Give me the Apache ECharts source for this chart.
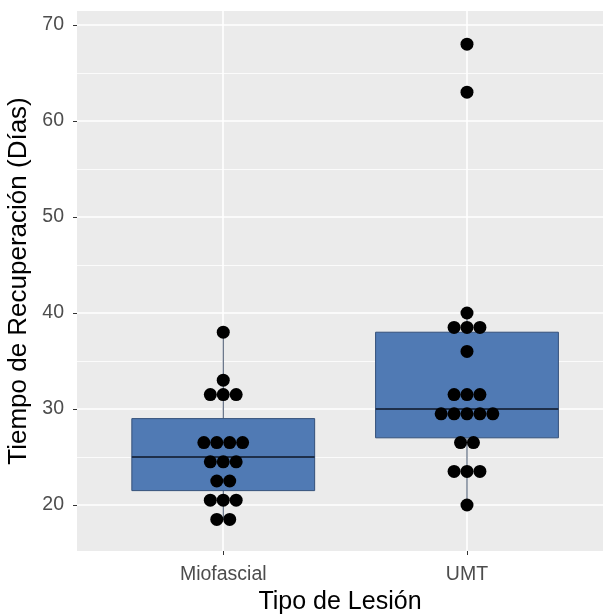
<!DOCTYPE html>
<html>
<head>
<meta charset="utf-8">
<script src="https://cdn.jsdelivr.net/npm/echarts@6/dist/echarts.min.js"></script>
<style>html,body{margin:0;padding:0;background:#fff;}#c{width:603px;height:615px;}</style>
</head>
<body>
<div id="c"></div>
<script>
// ---- data ----
var categories = ['Miofascial', 'UMT'];
var mioValues = [38, 33, 31.5, 31.5, 31.5, 26.5, 26.5, 26.5, 26.5, 24.5, 24.5, 24.5, 22.5, 22.5, 20.5, 20.5, 20.5, 18.5, 18.5];
var umtValues = [68, 63, 40, 38.5, 38.5, 38.5, 36, 31.5, 31.5, 31.5, 29.5, 29.5, 29.5, 29.5, 29.5, 26.5, 26.5, 23.5, 23.5, 23.5, 20];
// box stats: [whiskerLow, q1, median, q3, whiskerHigh]
var mioBox = [18.5, 21.5, 25, 29, 38];
var umtBox = [20, 27, 30, 38, 40];
var yTicks = [20, 30, 40, 50, 60, 70];
var yMinor = [25, 35, 45, 55, 65];

var font = 'Liberation Sans, Arial, sans-serif';
var dotStep = 0.053;
var boxWidth = 0.75;

function stackDots(values, center) {
  var counts = {};
  values.forEach(function (v) { counts[v] = (counts[v] || 0) + 1; });
  var out = [];
  Object.keys(counts).forEach(function (k) {
    var n = counts[k];
    for (var i = 0; i < n; i++) {
      out.push([center + (i - (n - 1) / 2) * dotStep, Number(k)]);
    }
  });
  return out;
}
var dots = stackDots(mioValues, 1).concat(stackDots(umtValues, 2));
var boxes = [[1].concat(mioBox), [2].concat(umtBox)];

var gridLines = [];
yMinor.forEach(function (v) { gridLines.push({ yAxis: v, lineStyle: { color: '#fff', width: 0.8, type: 'solid' } }); });
yTicks.forEach(function (v) { gridLines.push({ yAxis: v, lineStyle: { color: '#fff', width: 1.6, type: 'solid' } }); });
[1, 2].forEach(function (v) { gridLines.push({ xAxis: v, lineStyle: { color: '#fff', width: 1.6, type: 'solid' } }); });

var chart = echarts.init(document.getElementById('c'), null, { renderer: 'canvas' });
chart.setOption({
  animation: false,
  backgroundColor: '#fff',
  grid: { left: 77, right: 0, top: 11, bottom: 64, show: true, backgroundColor: '#EBEBEB', borderWidth: 0, containLabel: false, outerBoundsMode: 'none' },
  xAxis: {
    type: 'value', min: 0.4, max: 2.558,
    axisLine: { show: false },
    splitLine: { show: false },
    axisTick: { show: true, customValues: [1, 2], length: 4, lineStyle: { color: '#333', width: 1 } },
    axisLabel: {
      show: true, customValues: [1, 2], margin: 14,
      formatter: function (v) { return categories[Math.round(v) - 1] || ''; },
      color: '#4D4D4D', fontSize: 19.5, fontFamily: font
    },
    name: 'Tipo de Lesión', nameLocation: 'middle', nameGap: 37,
    nameTextStyle: { color: '#000', fontSize: 25, fontFamily: font }
  },
  yAxis: {
    type: 'value', min: 15.21, max: 71.46,
    axisLine: { show: false },
    splitLine: { show: false },
    axisTick: { show: true, customValues: yTicks, length: 4, lineStyle: { color: '#333', width: 1 } },
    axisLabel: { show: true, customValues: yTicks, margin: 13, color: '#4D4D4D', fontSize: 19.5, fontFamily: font },
    name: 'Tiempo de Recuperación (Días)', nameLocation: 'middle', nameGap: 37, nameRotate: 90,
    nameTextStyle: { color: '#000', fontSize: 26, fontFamily: font }
  },
  series: [
    {
      type: 'scatter', data: [], silent: true, z: 1,
      markLine: { silent: true, z: 1, symbol: ['none', 'none'], label: { show: false }, animation: false, data: gridLines }
    },
    {
      type: 'custom', z: 2, data: boxes,
      renderItem: function (params, api) {
        var x = api.value(0);
        var lo = api.value(1), q1 = api.value(2), md = api.value(3), q3 = api.value(4), hi = api.value(5);
        var pLo = api.coord([x, lo]), pHi = api.coord([x, hi]);
        var pQ1 = api.coord([x, q1]), pQ3 = api.coord([x, q3]);
        var l = api.coord([x - boxWidth / 2, md]), r = api.coord([x + boxWidth / 2, md]);
        var lineC = '#3A4A63';
        return {
          type: 'group', children: [
            { type: 'line', shape: { x1: pLo[0], y1: pLo[1], x2: pQ1[0], y2: pQ1[1] }, style: { stroke: lineC, lineWidth: 1 } },
            { type: 'line', shape: { x1: pHi[0], y1: pHi[1], x2: pQ3[0], y2: pQ3[1] }, style: { stroke: lineC, lineWidth: 1 } },
            { type: 'rect', shape: { x: l[0], y: pQ3[1], width: r[0] - l[0], height: pQ1[1] - pQ3[1] }, style: { fill: '#507AB4', stroke: '#34507A', lineWidth: 1 } },
            { type: 'line', shape: { x1: l[0], y1: l[1], x2: r[0], y2: r[1] }, style: { stroke: '#1E2F4A', lineWidth: 2 } }
          ]
        };
      }
    },
    {
      type: 'scatter', z: 3, data: dots, symbol: 'circle', symbolSize: 13,
      itemStyle: { color: '#000', borderColor: '#000', borderWidth: 0, opacity: 1 }
    }
  ]
});
</script>
</body>
</html>
